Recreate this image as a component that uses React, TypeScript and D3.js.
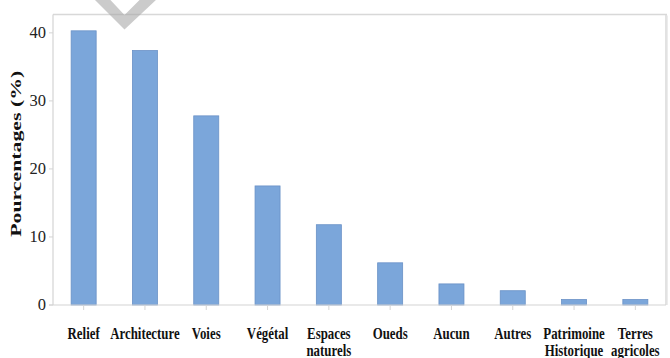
import React from "react";
import * as d3 from "d3";

// Landscape elements cited, share of responses (%)
const categories: string[] = [
  "Relief",
  "Architecture",
  "Voies",
  "Végétal",
  "Espaces naturels",
  "Oueds",
  "Aucun",
  "Autres",
  "Patrimoine Historique",
  "Terres agricoles",
];
const categoryLines: string[][] = [
  ["Relief"],
  ["Architecture"],
  ["Voies"],
  ["Végétal"],
  ["Espaces", "naturels"],
  ["Oueds"],
  ["Aucun"],
  ["Autres"],
  ["Patrimoine", "Historique"],
  ["Terres", "agricoles"],
];
const percentages: number[] = [40.3, 37.4, 27.8, 17.5, 11.8, 6.2, 3.1, 2.1, 0.8, 0.8];
const yTicks: number[] = [0, 10, 20, 30, 40];
const yTitle = "Pourcentages (%)";

const W = 670;
const H = 358;
const plot = { left: 53, right: 666, top: 14.5, bottom: 305 };

export default function App() {
  const x = d3
    .scaleBand<string>()
    .domain(categories)
    .range([plot.left, plot.right])
    .paddingInner(0.592)
    .paddingOuter(0.296);
  const y = d3.scaleLinear().domain([0, 42.7]).range([plot.bottom, plot.top]);

  const serif = "'Liberation Serif', 'DejaVu Serif', serif";
  const axisGray = "#d4d4d4";

  return (
    <svg
      width={W}
      height={H}
      viewBox={`0 0 ${W} ${H}`}
      style={{ position: "absolute", left: 0, top: 0, background: "#fff" }}
    >
      {/* frame */}
      <line x1={plot.left} x2={plot.right + 1} y1={plot.top} y2={plot.top} stroke="#d8d8d8" strokeWidth={1.5} />
      <line x1={plot.right} x2={plot.right} y1={plot.top} y2={plot.bottom} stroke="#d8d8d8" strokeWidth={1.5} />
      <line x1={plot.right + 1.5} x2={plot.right + 1.5} y1={plot.top + 1} y2={plot.bottom} stroke="#ececec" strokeWidth={1} />

      {/* bars */}
      {categories.map((c, i) => (
        <rect
          key={c}
          x={x(c)!}
          y={y(percentages[i])}
          width={x.bandwidth()}
          height={y(0) - y(percentages[i])}
          fill="#7ba6da"
          stroke="#6991c6"
          strokeWidth={0.8}
        />
      ))}

      {/* y axis */}
      <line x1={plot.left} x2={plot.left} y1={plot.top} y2={plot.bottom} stroke={axisGray} strokeWidth={1.2} />
      {yTicks.map((t) => (
        <g key={t}>
          <line x1={plot.left - 4} x2={plot.left} y1={y(t)} y2={y(t)} stroke={axisGray} strokeWidth={1} />
          <text
            x={plot.left - 7}
            y={y(t)}
            dy="0.33em"
            textAnchor="end"
            fontFamily={serif}
            fontSize={16.5}
            fill="#222"
          >
            {t}
          </text>
        </g>
      ))}
      <text
        transform={`translate(21, ${(plot.top + plot.bottom) / 2 - 6}) rotate(-90)`}
        textAnchor="middle"
        fontFamily={serif}
        fontWeight="bold"
        fontSize={15}
        fill="#111"
        textLength={166}
        lengthAdjust="spacingAndGlyphs"
      >
        {yTitle}
      </text>

      {/* x axis */}
      <line x1={plot.left - 4} x2={plot.right} y1={plot.bottom} y2={plot.bottom} stroke={axisGray} strokeWidth={1.2} />
      {categories.map((c, i) => {
        const cx = x(c)! + x.bandwidth() / 2;
        return (
          <g key={c}>
            <line x1={cx} x2={cx} y1={plot.bottom} y2={plot.bottom + 5} stroke={axisGray} strokeWidth={1} />
            {categoryLines[i].map((line, j) => (
              <text
                key={line}
                x={cx}
                y={339 + j * 17}
                textAnchor="middle"
                fontFamily={serif}
                fontWeight="bold"
                fontSize={16.5}
                fill="#111"
                transform={`translate(${cx}, 0) scale(0.78, 1) translate(${-cx}, 0)`}
              >
                {line}
              </text>
            ))}
          </g>
        );
      })}

      {/* watermark chevron */}
      <polygon
        points="94,-1 124.5,29.5 157,-1 140.5,-1 124.5,15 109.5,-1"
        fill="#a9a9a9"
        opacity={0.6}
      />
    </svg>
  );
}
